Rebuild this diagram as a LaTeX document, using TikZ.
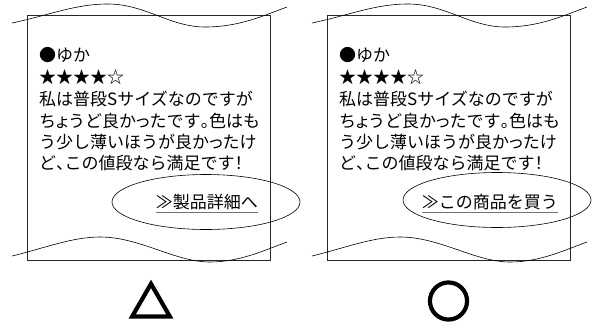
\documentclass[tikz,border=0pt]{standalone}
\usepackage{fontspec}
\setmainfont{Noto Sans CJK JP}
\newfontfamily\jpprop[RawFeature=+palt]{Noto Sans CJK JP}
\newfontfamily\markfont[FakeBold=6]{Noto Sans CJK JP}
\newcommand\nw[1]{{\jpprop #1}}
\usetikzlibrary{shapes.geometric}
\begin{document}
\begin{tikzpicture}[x=1pt,y=-1pt,
  txt/.style={anchor=west,inner sep=0pt,text height=14.96pt,text depth=2.04pt,font=\fontsize{17}{17}\selectfont},
  link/.style={anchor=east,inner sep=0pt,text height=14.96pt,text depth=2.04pt,font=\fontsize{17}{17}\selectfont},
  uline/.style={draw=black!55,line width=1.3pt},
  frame/.style={draw=black!85,line width=0.9pt},
  wave/.style={draw=black,line width=0.6pt},
  oval/.style={ellipse,draw=black,line width=0.6pt,minimum width=188pt,minimum height=55pt,inner sep=0pt},
  ratemark/.style={inner sep=0pt,font=\markfont\fontsize{43}{43}\selectfont}]
\useasboundingbox (0,0) rectangle (594,327);
% left panel
\draw[frame] (27,15.5) rectangle (270,260);
\draw[wave] (12,23) .. controls (50,15) and (75,4) .. (108,4) .. controls (145,4) and (170,27) .. (205,27) .. controls (240,27) and (265,15) .. (287,7);
\draw[wave] (12,256) .. controls (45,248) and (72,237) .. (100,237) .. controls (140,237) and (175,262) .. (210,262) .. controls (240,262) and (265,250) .. (287,242);
\node[txt] (nameL) at (39,55) {●ゆか};
\node[txt] (starL) at (39,77) {★★★★☆};
\node[txt] (l1L) at (39,99) {私は普段Sサイズなのですが};
\node[txt] (l2L) at (39,121) {ち\nw{ょ}うど良か\nw{っ}たです\nw{。}色はも};
\node[txt] (l3L) at (39,142) {う少し薄いほうが良か\nw{っ}たけ};
\node[txt] (l4L) at (39,163) {ど\nw{、}この値段なら満足です\nw{！}};
\node[link] (linkL) at (258,202) {≫製品詳細へ};
\draw[uline] ([yshift=-1.5pt]linkL.south west) -- ([yshift=-1.5pt]linkL.south east);
\node[oval] (ovalL) at (206,202) {};
\node[ratemark] (markL) at (151,300) {△};
% right panel
\draw[frame] (327,15.5) rectangle (570,260);
\draw[wave] (312,23) .. controls (350,15) and (375,4) .. (408,4) .. controls (445,4) and (470,27) .. (505,27) .. controls (540,27) and (565,15) .. (587,7);
\draw[wave] (312,256) .. controls (345,248) and (372,237) .. (400,237) .. controls (440,237) and (475,262) .. (510,262) .. controls (540,262) and (565,250) .. (587,242);
\node[txt] (nameR) at (339,55) {●ゆか};
\node[txt] (starR) at (339,77) {★★★★☆};
\node[txt] (l1R) at (339,99) {私は普段Sサイズなのですが};
\node[txt] (l2R) at (339,121) {ち\nw{ょ}うど良か\nw{っ}たです\nw{。}色はも};
\node[txt] (l3R) at (339,142) {う少し薄いほうが良か\nw{っ}たけ};
\node[txt] (l4R) at (339,163) {ど\nw{、}この値段なら満足です\nw{！}};
\node[link] (linkR) at (558,202) {≫この商品を買う};
\draw[uline] ([yshift=-1.5pt]linkR.south west) -- ([yshift=-1.5pt]linkR.south east);
\node[oval] (ovalR) at (497,200) {};
\node[ratemark] (markR) at (448.5,301) {○};
\end{tikzpicture}
\end{document}
